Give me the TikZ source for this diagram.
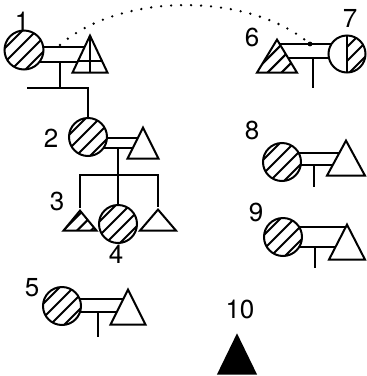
\documentclass[tikz,border=0pt]{standalone}
\usepackage{fontspec}
\setmainfont{TeX Gyre Heros}
\usetikzlibrary{shapes.geometric,calc}
\pgfdeclarelayer{background}
\pgfsetlayers{background,main}
\tikzset{
  ln/.style={line width=2pt},
  hatchlines/.code={\foreach \k in {-63,-49,...,63}{\draw[line width=2pt] ([shift={(\k-40,40)}]path picture bounding box.center) -- ++(80,-80);}},
  hatch/.style={path picture={\tikzset{hatchlines}}},
  person/.style={circle,draw,ln,fill=white,inner sep=0pt,minimum size=#1},
  tri/.style 2 args={isosceles triangle,shape border rotate=90,isosceles triangle stretches,
     minimum width=#1,minimum height=#2,inner sep=0pt,draw,ln,fill=white,anchor=apex},
  lbl/.style={inner sep=0pt,font=\fontsize{26}{26}\selectfont},
  halfhatch/.style={path picture={
     \begin{scope}\clip (path picture bounding box.north) rectangle (path picture bounding box.south east);
       \tikzset{hatchlines}\end{scope}
     \draw[ln] (path picture bounding box.north) -- (path picture bounding box.south);}},
  cross/.style={path picture={
     \draw[ln] (path picture bounding box.north) -- (path picture bounding box.south);
     \draw[ln] ($(path picture bounding box.south west)+(0,-12)$) -- ($(path picture bounding box.south east)+(0,-12)$);}},
  dots/.style={line width=2.6pt,dash pattern=on 0pt off 10pt,line cap=round}
}
\begin{document}
\begin{tikzpicture}[x=1pt,y=-1pt]
\useasboundingbox (0,0) rectangle (367,376);
% individuals
\node[person=39pt,hatch] (c1) at (24,50) {};
\node[tri={35pt}{37pt},cross] (t1) at (90,33) {};
\node[person=38pt,hatch] (c2) at (88,137) {};
\node[tri={31pt}{31pt}] (t2) at (143,125) {};
\node[tri={33pt}{20pt},hatch] (t3) at (80,208) {};
\node[person=38pt,hatch] (c4) at (118,224) {};
\node[tri={36pt}{21pt}] (t3b) at (158,207) {};
\node[person=38pt,hatch] (c5) at (62,306) {};
\node[tri={35pt}{35pt}] (t5) at (128,287) {};
\node[tri={40pt}{33pt},hatch] (t6) at (277,37) {};
\node[person=37pt,halfhatch] (c7) at (347,54) {};
\node[person=38pt,hatch] (c8) at (282,162) {};
\node[tri={38pt}{35pt}] (t8) at (346,138) {};
\node[person=38pt,hatch] (c9) at (283,237) {};
\node[tri={36pt}{35pt}] (t9) at (347,222) {};
\node[tri={37pt}{38pt},fill=black] (t10) at (237,333) {};
% labels
\node[lbl] (l1) at (22,21) {1};
\node[lbl] (l2) at (51,138) {2};
\node[lbl] (l3) at (57,201) {3};
\node[lbl] (l4) at (116,254) {4};
\node[lbl] (l5) at (32,288) {5};
\node[lbl] (l6) at (252,37) {6};
\node[lbl] (l7) at (350,18) {7};
\node[lbl] (l8) at (252,130) {8};
\node[lbl] (l9) at (256,212) {9};
\node[lbl] (l10) at (240,309) {10};
% connectors
\begin{pgfonlayer}{background}
\coordinate (y1t) at (0,47); \coordinate (y1b) at (0,62);
\draw[ln] (c1 |- y1t) -- (t1.apex |- y1t);
\draw[ln] (c1 |- y1b) -- (t1.apex |- y1b);
\coordinate (j1) at (60,62); \coordinate (s1) at (60,88);
\coordinate (s1l) at (27,88); \coordinate (s1r) at (88,88);
\draw[ln] (j1) -- (s1);
\draw[ln] (s1l) -- (s1r) -- (c2);
\coordinate (y2t) at (0,138); \coordinate (y2b) at (0,148);
\draw[ln] (c2 |- y2t) -- (t2.apex |- y2t);
\draw[ln] (c2 |- y2b) -- (t2.apex |- y2b);
\coordinate (j2) at (118,148); \coordinate (s2) at (118,175);
\coordinate (s2l) at (80,175); \coordinate (s2r) at (158,175);
\draw[ln] (j2) -- (s2);
\draw[ln] (t3.apex) -- (s2l) -- (s2r) -- (t3b.apex);
\draw[ln] (s2) -- (c4);
\coordinate (y5t) at (0,299); \coordinate (y5b) at (0,312);
\draw[ln] (c5 |- y5t) -- (t5.apex |- y5t);
\draw[ln] (c5 |- y5b) -- (t5.apex |- y5b);
\coordinate (j5) at (98,312); \coordinate (e5) at (98,337);
\draw[ln] (j5) -- (e5);
\coordinate (y6t) at (0,44); \coordinate (y6b) at (0,58);
\draw[ln] (t6.apex |- y6t) -- (c7 |- y6t);
\draw[ln] (t6.apex |- y6b) -- (c7 |- y6b);
\coordinate (j6) at (313,58); \coordinate (e6) at (313,88);
\draw[ln] (j6) -- (e6);
\coordinate (y8t) at (0,153); \coordinate (y8b) at (0,165);
\draw[ln] (c8 |- y8t) -- (t8.apex |- y8t);
\draw[ln] (c8 |- y8b) -- (t8.apex |- y8b);
\coordinate (j8) at (314,165); \coordinate (e8) at (314,187);
\draw[ln] (j8) -- (e8);
\coordinate (y9t) at (0,227); \coordinate (y9b) at (0,247);
\draw[ln] (c9 |- y9t) -- (t9.apex |- y9t);
\draw[ln] (c9 |- y9b) -- (t9.apex |- y9b);
\coordinate (j9) at (315,247); \coordinate (e9) at (315,268);
\draw[ln] (j9) -- (e9);
\end{pgfonlayer}
% dotted relation
\coordinate (d1) at (60,45); \coordinate (d2) at (310,44);
\draw[dots] (d1) .. controls (120,-8) and (250,-8) .. (d2);
\fill (d2) circle (2.4pt);
\end{tikzpicture}
\end{document}
